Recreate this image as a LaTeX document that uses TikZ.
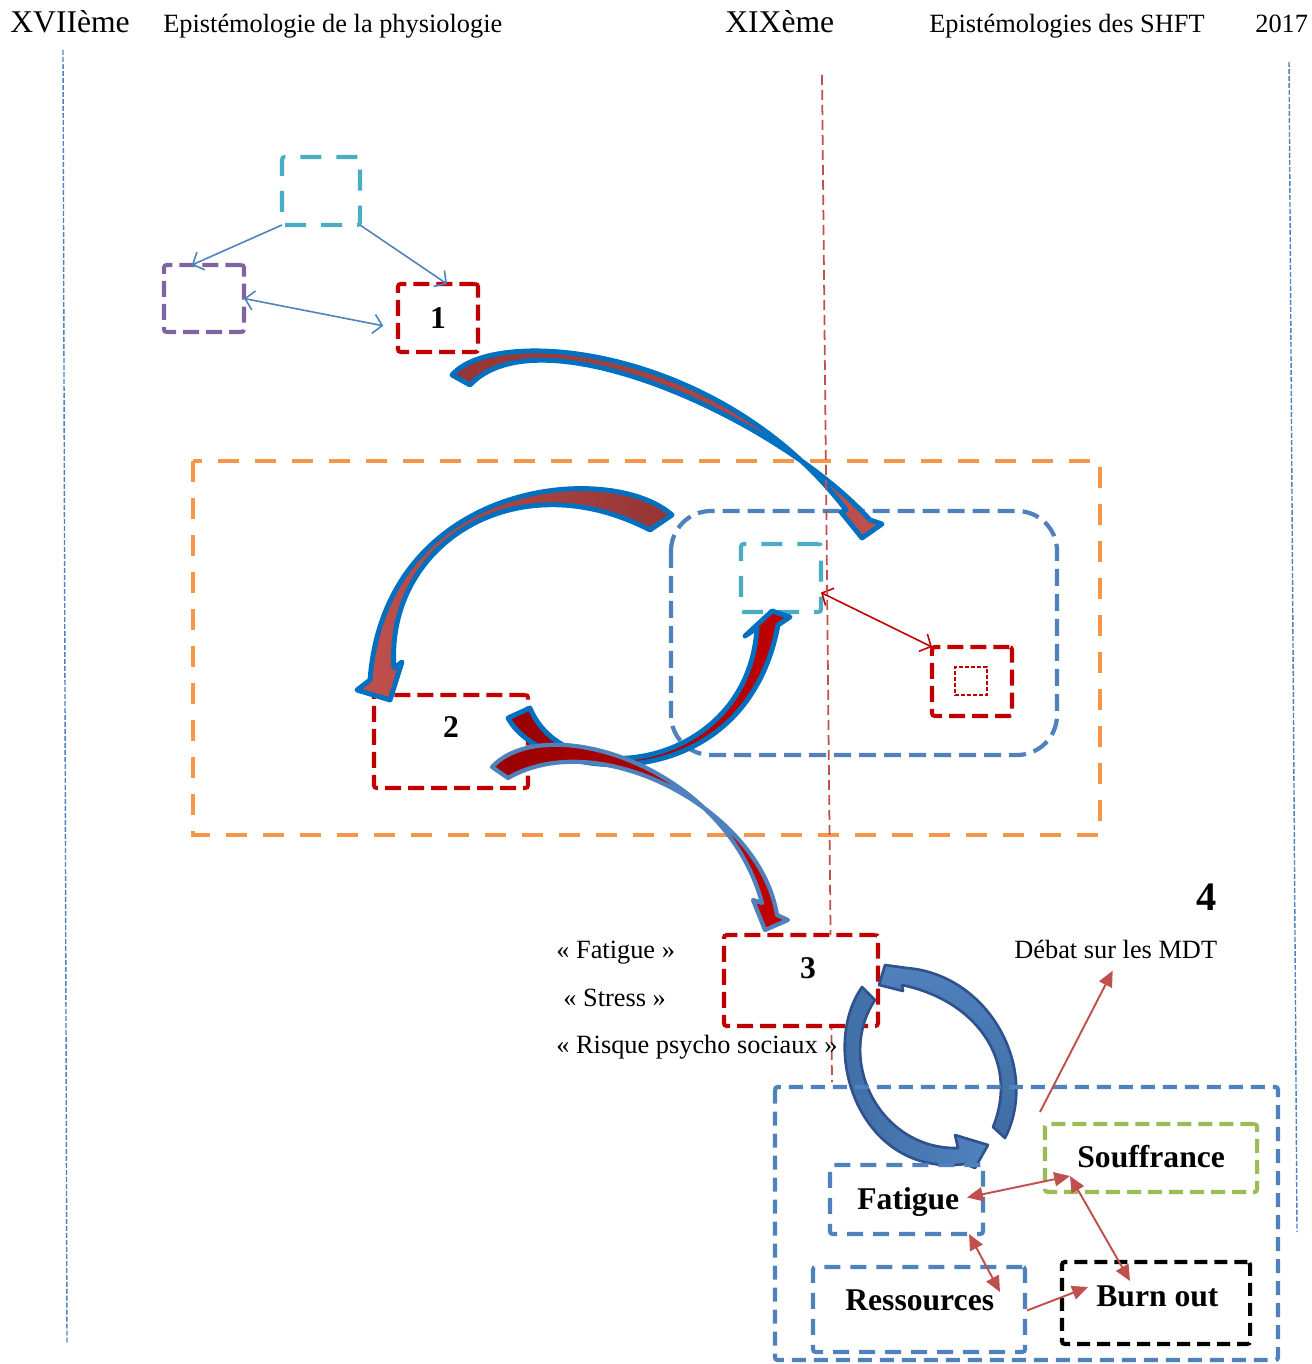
\documentclass[tikz,border=0pt]{standalone}
\usepackage{fontspec}
\setmainfont{Liberation Serif}
\usetikzlibrary{arrows.meta,calc}
\definecolor{cred}{HTML}{C00000}
\definecolor{cdark}{HTML}{990000}
\definecolor{ccyan}{HTML}{4BACC6}
\definecolor{cpurple}{HTML}{8064A2}
\definecolor{corange}{HTML}{F79646}
\definecolor{cblue}{HTML}{4F81BD}
\definecolor{cgreen}{HTML}{9BBB59}
\definecolor{cred2}{HTML}{C0504D}
\definecolor{cbrown}{HTML}{943634}
\definecolor{carr}{HTML}{0070C0}
\definecolor{csteel}{HTML}{3F6CA3}
\definecolor{csteeld}{HTML}{2F528F}

\begin{document}
\begin{tikzpicture}[x=0.02cm,y=-0.02cm,
  sz/.style 2 args={minimum width=#1*0.02cm,minimum height=#2*0.02cm},
  dbox/.style={draw=#1,line width=2.3pt,rounded corners=1.5pt,inner sep=0pt,outer sep=0pt,dash pattern=on 0.32cm off 0.14cm},
  head/.style={inner sep=0pt,anchor=base west,font=\fontsize{18}{20}\selectfont},
  sub/.style={inner sep=0pt,anchor=base west,font=\fontsize{15}{17}\selectfont},
  num/.style={inner sep=0pt,font=\bfseries\fontsize{18}{20}\selectfont},
  lab/.style={inner sep=0pt,anchor=base west,font=\bfseries\fontsize{18}{20}\selectfont},
  barb/.style={line width=0.9pt,arrows={-Straight Barb[length=5pt,width=11pt]}},
  dbarb/.style={line width=0.9pt,arrows={Straight Barb[length=5pt,width=11pt]-Straight Barb[length=5pt,width=11pt]}},
  redtip/.style={draw=cred2,line width=1.1pt,arrows={-Triangle[length=9pt,width=8pt]}},
  dredtip/.style={draw=cred2,line width=1.1pt,arrows={Triangle[length=9pt,width=8pt]-Triangle[length=9pt,width=8pt]}},
  bigarr/.style={line width=2.8pt,line join=round}]
\useasboundingbox (0,0) rectangle (1311,1364);

\node[head] (t17) at (10,33) {XVIIème};
\node[sub] (tphy) at (163,33) {Epistémologie de la physiologie};
\node[head] (t19) at (725,33) {XIXème};
\node[sub] (tshft) at (929,33) {Epistémologies des SHFT};
\node[sub] (tyear) at (1255,33) {2017};

\draw[cblue,line width=0.8pt,dash pattern=on 0.1cm off 0.04cm] (63,50) -- (67,1343);
\draw[cblue,line width=0.8pt,dash pattern=on 0.1cm off 0.04cm] (1289,62) -- (1297,1232);

% top group
\node[dbox=ccyan,sz={78}{68},dash pattern=on 0.42cm off 0.3cm] (cyt) at (321,191) {};
\node[dbox=cpurple,sz={80}{67}] (pur) at (204,298.5) {};
\node[dbox=cred,sz={80}{68},num] (b1) at (438,318) {1};
\draw[cblue,barb] (cyt.south west) -- (pur.110);
\draw[cblue,barb] (cyt.south east) -- (b1.75);
\draw[cblue,dbarb,shorten >=0.3cm] (pur.east) -- (b1.195);

% middle group
\draw[corange,line width=2.3pt,dash pattern=on 0.42cm off 0.32cm] (193,461) rectangle (1100,835);
\draw[cblue,line width=2.4pt,dash pattern=on 0.34cm off 0.16cm,rounded corners=0.8cm] (671,511) rectangle (1057,755);
\node[dbox=ccyan,sz={80}{68},dash pattern=on 0.42cm off 0.3cm] (cyi) at (781,578) {};
\node[dbox=cred,sz={80}{69}] (rsq) at (972,681.5) {};
\node[draw=cred,line width=0.8pt,dash pattern=on 0.08cm off 0.04cm,inner sep=0pt,sz={32}{28}] (rsqi) at (971,681) {};
\draw[cred,dbarb] (cyi.-20) -- (rsq.north west);
\node[dbox=cred,sz={154}{93}] (b2) at (451,741.5) {};
\node[num] (n2) at (451,727) {2};

% curved arrows
\path[bigarr,draw=carr,left color=cbrown,right color=cred2]
  (452,375) .. controls (495,325) and (720,345) .. (846,510) -- (841,512) -- (862,538) -- (882,524)
  -- (870,520) .. controls (780,420) and (540,310) .. (470,385) -- cycle;
\path[bigarr,draw=carr,left color=cred2,right color=cbrown]
  (672,515) .. controls (610,460) and (385,480) .. (370,680) -- (357,690) -- (390,700) -- (402,662)
  -- (394,668) .. controls (385,545) and (515,460) .. (650,530) -- cycle;
\path[bigarr,draw=carr,left color=cdark,right color=cred]
  (508,718) .. controls (545,785) and (745,800) .. (778,625) -- (790,617) -- (772,611) -- (745,636)
  -- (757,628) .. controls (748,770) and (565,795) .. (530,708) -- cycle;
\path[bigarr,line width=2.4pt,draw=cblue,left color=cdark,right color=cred]
  (492,767) .. controls (545,710) and (725,765) .. (762,903) -- (753,900) -- (765,930) -- (788,920)
  -- (777,915) .. controls (760,810) and (600,725) .. (508,778) -- cycle;

\draw[cred2,line width=1pt,dash pattern=on 0.2cm off 0.1cm] (822,75) -- (832,1082);

% box 3
\node[dbox=cred,sz={154}{91},fill=white] (b3) at (801,980.5) {};
\node[num] (n3) at (808,968) {3};
\node[sub] (qfat) at (556,958) {« Fatigue »};
\node[sub] (qstr) at (563,1006) {« Stress »};
\node[sub] (qrps) at (556,1053) {« Risque psycho sociaux »};
\node[inner sep=0pt,anchor=base west,font=\bfseries\fontsize{23}{25}\selectfont] (n4) at (1196,910) {4};
\node[sub] (debat) at (1014,958) {Débat sur les MDT};

\path[bigarr,line width=1.5pt,draw=csteeld,top color=cblue,bottom color=csteel]
  (1005,1138) .. controls (1040,1070) and (990,975) .. (907,968) -- (885,965) -- (879,985) -- (903,991)
  -- (902,985) .. controls (975,1000) and (1020,1060) .. (993,1127) -- cycle;
\path[bigarr,line width=1.5pt,draw=csteeld,left color=csteel,right color=cblue]
  (862,987) .. controls (818,1050) and (860,1178) .. (965,1164) -- (975,1168) -- (988,1145) -- (955,1135)
  -- (958,1148) .. controls (880,1150) and (835,1060) .. (875,1000) -- cycle;

% bottom group
\draw[cblue,line width=2.4pt,dash pattern=on 0.28cm off 0.16cm,rounded corners=1.5pt] (775,1087) rectangle (1278,1360);
\node[dbox=cgreen,sz={212}{68},dash pattern=on 0.28cm off 0.14cm] (souf) at (1151,1158) {};
\node[dbox=cblue,sz={153}{69},dash pattern=on 0.32cm off 0.2cm] (fat) at (906.5,1199.5) {};
\node[dbox=cblue,sz={212}{85},dash pattern=on 0.32cm off 0.2cm] (res) at (919,1309.5) {};
\node[dbox=black,sz={188}{82},dash pattern=on 0.26cm off 0.14cm] (burn) at (1156,1303) {};
\node[lab] (lsouf) at (1077,1167) {Souffrance};
\node[lab] (lfat) at (857,1209) {Fatigue};
\node[lab] (lres) at (845,1310) {Ressources};
\node[lab] (lburn) at (1096,1306) {Burn out};

\draw[dredtip] ([shift={(-16,-2)}]fat.east) -- ([shift={(25,-16)}]souf.south west);
\draw[dredtip] ([shift={(25,-16)}]souf.south west) -- ([shift={(-26,19)}]burn.north);
\draw[dredtip] ([shift={(-14,0)}]fat.south east) -- ([shift={(-25,25)}]res.north east);
\draw[redtip] ([shift={(2,1)}]res.east) -- ([shift={(26,-16)}]burn.west);
\draw[redtip] ([shift={(-5,-12)}]souf.north west) -- ([shift={(-3,12)}]debat.south);
\end{tikzpicture}
\end{document}
